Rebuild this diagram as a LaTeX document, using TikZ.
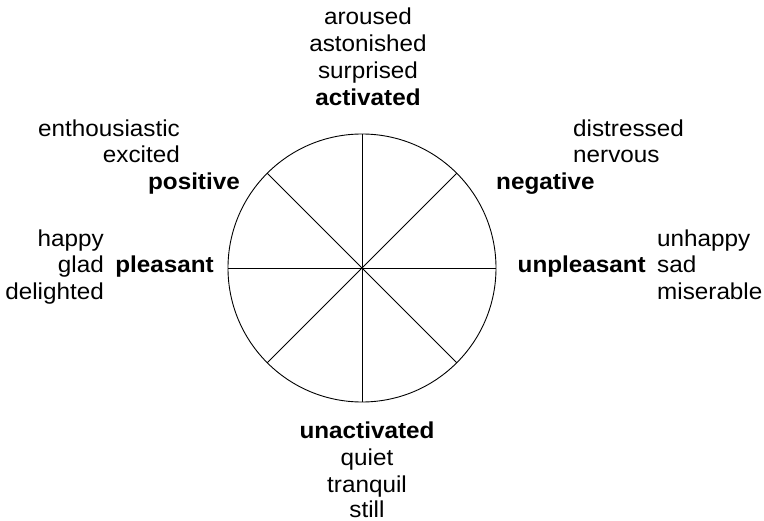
\documentclass[tikz,border=0pt]{standalone}
\usepackage{fontspec}
\setmainfont[FakeStretch=1.055]{Liberation Sans}
\usetikzlibrary{calc}
\begin{document}
\begin{tikzpicture}[x=1pt,y=-1pt,
  lbl/.style={inner sep=0pt,font=\fontsize{23}{27}\selectfont},
  axis/.style={lbl,font=\fontsize{23}{27}\selectfont\bfseries},
  ln/.style={line width=0.9pt}]
\useasboundingbox (0,0) rectangle (764,521);
\coordinate (c) at (362,268);
\draw[ln] (c) circle[radius=134];
\foreach \a in {0,45,90,135}{
  \draw[ln] ($(c)+(\a:134)$) -- ($(c)+(\a+180:134)$);
}
% top
\node[lbl,anchor=base] (t1) at (368,25) {aroused};
\node[lbl,anchor=base] (t2) at (368,52) {astonished};
\node[lbl,anchor=base] (t3) at (368,79) {surprised};
\node[axis,anchor=base] (t4) at (368,106) {activated};
% upper left
\node[lbl,anchor=base east] (ul1) at (180,137) {enthousiastic};
\node[lbl,anchor=base east] (ul2) at (180,163) {excited};
\node[axis,anchor=base east] (ul3) at (240,190) {positive};
% left
\node[lbl,anchor=base east] (l1) at (104,247) {happy};
\node[lbl,anchor=base east] (l2) at (104,273) {glad};
\node[lbl,anchor=base east] (l3) at (104,300) {delighted};
\node[axis,anchor=base east] (l4) at (214,273) {pleasant};
% upper right
\node[lbl,anchor=base west] (ur1) at (573,137) {distressed};
\node[lbl,anchor=base west] (ur2) at (573,163) {nervous};
\node[axis,anchor=base west] (ur3) at (496,190) {negative};
% right
\node[lbl,anchor=base west] (r1) at (657,247) {unhappy};
\node[lbl,anchor=base west] (r2) at (657,273) {sad};
\node[lbl,anchor=base west] (r3) at (657,300) {miserable};
\node[axis,anchor=base east] (r4) at (646,273) {unpleasant};
% bottom
\node[axis,anchor=base] (b1) at (367,439) {unactivated};
\node[lbl,anchor=base] (b2) at (367,466) {quiet};
\node[lbl,anchor=base] (b3) at (367,493) {tranquil};
\node[lbl,anchor=base] (b4) at (367,518) {still};
\end{tikzpicture}
\end{document}
